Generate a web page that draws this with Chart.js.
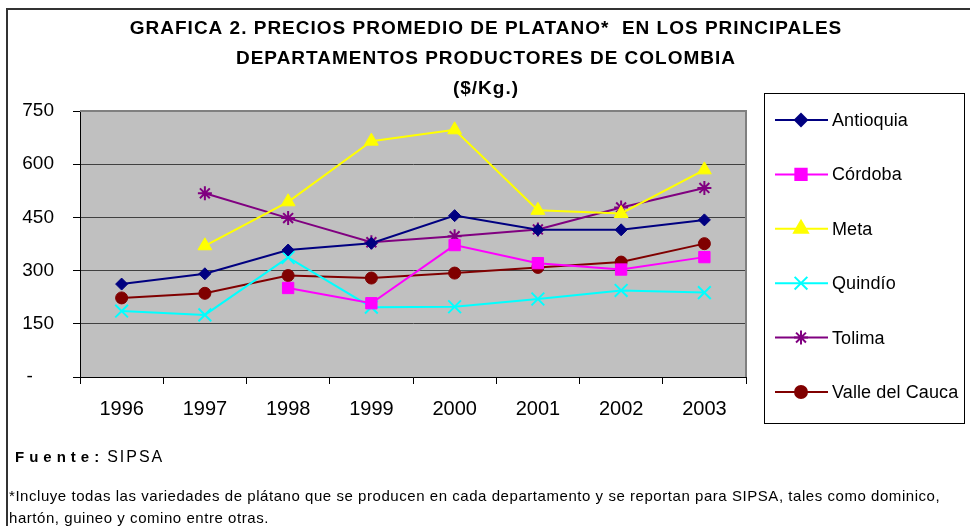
<!DOCTYPE html>
<html>
<head>
<meta charset="utf-8">
<script src="https://cdn.jsdelivr.net/npm/chart.js@4.4.1/dist/chart.umd.min.js"></script>
<style>
  html, body { margin: 0; padding: 0; background: #fff; }
  #chart { display: block; }
</style>
</head>
<body>
<canvas id="chart" width="970" height="526"></canvas>
<script>
/* ─── Data ───────────────────────────────────── */
const years = ['1996', '1997', '1998', '1999', '2000', '2001', '2002', '2003'];
const yTicks = [0, 150, 300, 450, 600, 750];

const antioquia = [262, 291, 358, 377, 455, 415, 415, 443];
const cordoba   = [null, null, 251, 208, 372, 321, 303, 338];
const meta      = [null, 370, 494, 665, 697, 470, 461, 584];
const quindio   = [186, 175, 337, 197, 198, 220, 244, 238];
const tolima    = [null, 518, 448, 380, 397, 416, 478, 533];
const valle     = [223, 236, 286, 279, 293, 309, 324, 376];

const titleLines = [
    'GRAFICA 2. PRECIOS PROMEDIO DE PLATANO*  EN LOS PRINCIPALES',
    'DEPARTAMENTOS PRODUCTORES DE COLOMBIA',
    '($/Kg.)'
];
const footnoteLines = [
    '*Incluye todas las variedades de plátano que se producen en cada departamento y se reportan para SIPSA, tales como dominico,',
    'hartón, guineo y comino entre otras.'
];

const FONT = "'Liberation Sans', Arial, sans-serif";

function series(label, data, color, style, radius) {
    return {
        label: label,
        data: data,
        borderColor: color,
        backgroundColor: color,
        borderWidth: 2,
        pointStyle: style,
        pointRadius: radius,
        pointHoverRadius: radius,
        pointBorderWidth: (style === 'crossRot' || style === 'star') ? 2 : 1,
        pointBorderColor: color,
        pointBackgroundColor: color,
        tension: 0,
        spanGaps: false
    };
}

const datasets = [
    series('Antioquia', antioquia, '#000080', 'rectRot', 6),
    series('Córdoba', cordoba, '#FF00FF', 'rect', 8),
    series('Meta', meta, '#FFFF00', 'triangle', 8),
    series('Quindío', quindio, '#00FFFF', 'crossRot', 9),
    series('Tolima', tolima, '#800080', 'star', 7),
    series('Valle del Cauca', valle, '#800000', 'circle', 6)
];

function spacing(ctx, px) {
    if ('letterSpacing' in ctx) ctx.letterSpacing = px + 'px';
}

/* ─── Frame, plot background, title, legend, notes ─── */
const decorations = {
    id: 'decorations',
    beforeDraw(chart) {
        const { ctx, chartArea: a } = chart;
        ctx.save();
        ctx.fillStyle = '#C0C0C0';
        ctx.fillRect(a.left, a.top, a.right - a.left, a.bottom - a.top);
        ctx.restore();
    },
    afterDraw(chart) {
        const { ctx, chartArea: a } = chart;
        ctx.save();

        // plot area border (top/right)
        ctx.strokeStyle = '#808080';
        ctx.lineWidth = 2;
        ctx.beginPath();
        ctx.moveTo(a.left, a.top);
        ctx.lineTo(a.right, a.top);
        ctx.lineTo(a.right, a.bottom);
        ctx.stroke();

        // outer frame
        ctx.strokeStyle = '#333';
        ctx.lineWidth = 2;
        ctx.beginPath();
        ctx.moveTo(7, 526);
        ctx.lineTo(7, 9);
        ctx.lineTo(970, 9);
        ctx.stroke();

        // title
        ctx.fillStyle = '#000';
        ctx.textAlign = 'center';
        ctx.textBaseline = 'middle';
        ctx.font = 'bold 19px ' + FONT;
        spacing(ctx, 1);
        titleLines.forEach((t, i) => ctx.fillText(t, 486, 29 + i * 30));

        // legend box
        ctx.strokeStyle = '#000';
        ctx.lineWidth = 1;
        ctx.strokeRect(764.5, 93.5, 200, 330);
        ctx.font = '18px ' + FONT;
        spacing(ctx, 0.1);
        ctx.textAlign = 'left';
        chart.data.datasets.forEach((ds, i) => {
            const y = 120 + i * 54.4;
            ctx.strokeStyle = ds.borderColor;
            ctx.fillStyle = ds.backgroundColor;
            ctx.lineWidth = 2;
            ctx.beginPath();
            ctx.moveTo(775, y);
            ctx.lineTo(828, y);
            ctx.stroke();
            Chart.helpers.drawPoint(ctx, {
                pointStyle: ds.pointStyle,
                radius: ds.pointRadius,
                rotation: 0,
                borderWidth: ds.pointBorderWidth
            }, 801, y);
            ctx.fillStyle = '#000';
            ctx.fillText(ds.label, 832, y + 1);
        });

        // source + footnote
        ctx.textBaseline = 'alphabetic';
        ctx.fillStyle = '#000';
        ctx.font = 'bold 15px ' + FONT;
        spacing(ctx, 5);
        ctx.fillText('Fuente:', 15, 462);
        const w = ctx.measureText('Fuente:').width;
        ctx.font = '16px ' + FONT;
        spacing(ctx, 2);
        ctx.fillText('SIPSA', 15 + w + 3, 462);
        ctx.font = '15px ' + FONT;
        spacing(ctx, 0.55);
        footnoteLines.forEach((t, i) => ctx.fillText(t, 9, 501 + i * 22));
        ctx.restore();
    }
};

/* ─── Chart ──────────────────────────────────── */
new Chart(document.getElementById('chart').getContext('2d'), {
    type: 'line',
    data: { labels: years, datasets: datasets },
    options: {
        responsive: false,
        animation: false,
        layout: { padding: { left: 0, top: 111, right: 224, bottom: 89 } },
        plugins: {
            legend: { display: false },
            title: { display: false },
            tooltip: { enabled: false }
        },
        scales: {
            x: {
                offset: true,
                afterFit: s => { s.height = 60; },
                grid: {
                    offset: true,
                    drawOnChartArea: false,
                    drawTicks: true,
                    tickLength: 7,
                    color: '#000'
                },
                border: { color: '#000', width: 1 },
                ticks: {
                    font: { family: FONT, size: 20 },
                    color: '#000',
                    padding: 13,
                    maxRotation: 0,
                    autoSkip: false
                }
            },
            y: {
                min: 0,
                max: 750,
                afterFit: s => { s.width = 80; },
                afterBuildTicks: s => { s.ticks = yTicks.map(v => ({ value: v })); },
                grid: {
                    color: '#404040',
                    lineWidth: 1,
                    tickLength: 7,
                    tickColor: '#000'
                },
                border: { color: '#000', width: 1 },
                ticks: {
                    font: { family: FONT, size: 19 },
                    color: '#000',
                    padding: 19,
                    callback: v => (v === 0 ? '-    ' : String(v))
                }
            }
        }
    },
    plugins: [decorations]
});
</script>
</body>
</html>
